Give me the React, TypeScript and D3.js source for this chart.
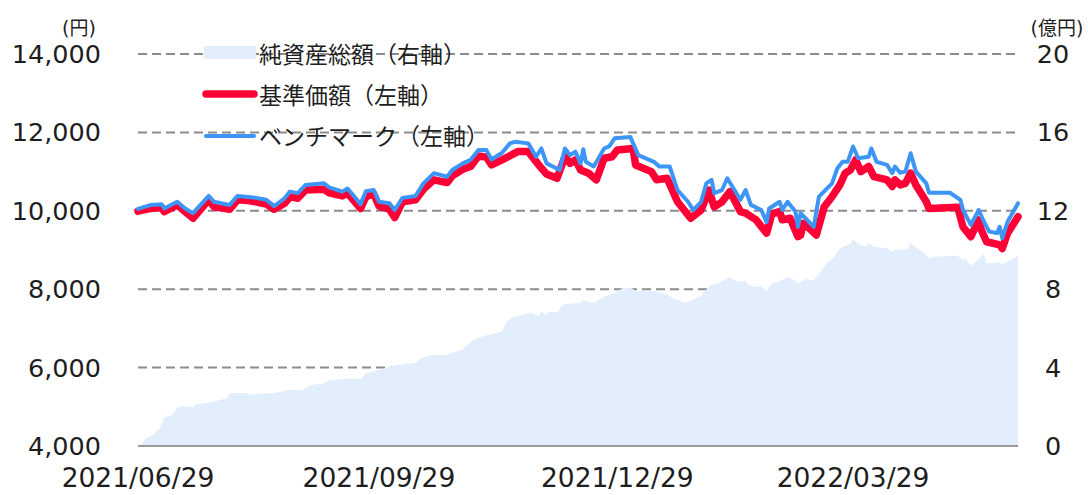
import React from "react";
import * as d3 from "d3";

// 基準価額 (円)
const navDates = [
  "2021-06-29","2021-07-04","2021-07-08","2021-07-09","2021-07-14","2021-07-17","2021-07-20","2021-07-26","2021-07-28",
  "2021-08-03","2021-08-06","2021-08-10","2021-08-13","2021-08-17","2021-08-20","2021-08-24","2021-08-26","2021-08-29",
  "2021-09-01","2021-09-08","2021-09-10","2021-09-15","2021-09-17","2021-09-22","2021-09-24","2021-09-27","2021-09-29",
  "2021-10-03","2021-10-05","2021-10-08","2021-10-13","2021-10-16","2021-10-20","2021-10-25","2021-10-27","2021-10-31",
  "2021-11-03","2021-11-06","2021-11-09","2021-11-11","2021-11-15","2021-11-21","2021-11-25","2021-11-29",
  "2021-12-02","2021-12-06","2021-12-09","2021-12-11","2021-12-13","2021-12-15","2021-12-18","2021-12-21","2021-12-24","2021-12-27","2021-12-29",
  "2022-01-04","2022-01-05","2022-01-11","2022-01-13","2022-01-17","2022-01-21","2022-01-26","2022-01-30",
  "2022-02-02","2022-02-04","2022-02-07","2022-02-10","2022-02-14","2022-02-16","2022-02-20","2022-02-24","2022-02-26",
  "2022-03-01","2022-03-02","2022-03-05","2022-03-08","2022-03-09","2022-03-10","2022-03-13","2022-03-15","2022-03-18",
  "2022-03-21","2022-03-24","2022-03-26","2022-03-28","2022-03-30",
  "2022-04-01","2022-04-04","2022-04-06","2022-04-11","2022-04-13","2022-04-14","2022-04-16","2022-04-18","2022-04-20",
  "2022-04-22","2022-04-26","2022-04-27",
  "2022-05-08","2022-05-10","2022-05-13","2022-05-16","2022-05-17","2022-05-19","2022-05-24","2022-05-25","2022-05-27","2022-05-31",
];
const navValues = [
  9990,10060,10090,9980,10150,9980,9810,10280,10100,
  10040,10280,10260,10230,10170,10040,10190,10360,10320,
  10530,10550,10460,10380,10450,10060,10360,10430,10120,
  10040,9830,10230,10280,10550,10790,10720,10890,11060,
  11130,11400,11370,11170,11300,11510,11510,11170,
  10940,10830,11380,11210,11300,11040,10960,10790,11340,11380,11550,
  11590,11170,11000,10790,10830,10230,9810,10020,
  10530,10100,10230,10490,9980,9940,9770,9430,9920,
  9980,9770,9810,9340,9380,9680,9510,9380,10100,
  10360,10660,10960,11040,11300,
  11000,11130,10870,10790,10620,10790,10660,10700,10960,
  10660,10230,10060,
  10090,9590,9340,9770,9510,9210,9130,9040,9430,9850,
];

// ベンチマーク (円)
const benchDates = [
  "2021-06-29","2021-07-04","2021-07-08","2021-07-09","2021-07-14","2021-07-17","2021-07-20","2021-07-26","2021-07-28",
  "2021-08-03","2021-08-06","2021-08-13","2021-08-17","2021-08-20","2021-08-24","2021-08-26","2021-08-29",
  "2021-09-01","2021-09-08","2021-09-10","2021-09-15","2021-09-17","2021-09-22","2021-09-24","2021-09-27","2021-09-29",
  "2021-10-03","2021-10-05","2021-10-08","2021-10-13","2021-10-16","2021-10-20","2021-10-25","2021-10-27","2021-10-31",
  "2021-11-03","2021-11-06","2021-11-09","2021-11-11","2021-11-15","2021-11-18","2021-11-20","2021-11-25","2021-11-28","2021-11-30",
  "2021-12-02","2021-12-07","2021-12-09","2021-12-11","2021-12-13","2021-12-15","2021-12-16","2021-12-17","2021-12-20",
  "2021-12-24","2021-12-26","2021-12-28",
  "2022-01-03","2022-01-06","2022-01-12","2022-01-14","2022-01-18","2022-01-21","2022-01-25","2022-01-27","2022-01-30",
  "2022-02-01","2022-02-03","2022-02-04","2022-02-07","2022-02-09","2022-02-14","2022-02-16","2022-02-18","2022-02-22",
  "2022-02-24","2022-02-25",
  "2022-03-01","2022-03-02","2022-03-04","2022-03-07","2022-03-08","2022-03-09","2022-03-14","2022-03-16","2022-03-21",
  "2022-03-23","2022-03-25","2022-03-27","2022-03-29","2022-03-31",
  "2022-04-04","2022-04-05","2022-04-07","2022-04-11","2022-04-13","2022-04-14","2022-04-16","2022-04-18","2022-04-20",
  "2022-04-22","2022-04-26","2022-04-27",
  "2022-05-05","2022-05-09","2022-05-10","2022-05-13","2022-05-16","2022-05-18","2022-05-20","2022-05-23","2022-05-24",
  "2022-05-25","2022-05-27","2022-05-31",
];
const benchValues = [
  10050,10150,10170,10060,10230,10060,9940,10380,10230,
  10150,10380,10330,10280,10120,10320,10490,10450,
  10660,10700,10600,10490,10570,10170,10500,10530,10230,
  10190,10020,10330,10380,10700,10960,10870,11040,11210,
  11300,11550,11550,11310,11480,11720,11760,11720,11380,11590,
  11210,11040,11590,11420,11510,11210,11570,11250,11130,
  11590,11650,11850,
  11880,11420,11250,11130,11130,10530,10230,10020,10230,
  10700,10790,10450,10530,10830,10280,10530,10150,10020,
  9710,10060,
  10230,10020,10230,9980,9590,9940,9590,10360,10700,
  11080,11250,11250,11640,11340,
  11380,11590,11250,11170,10960,11130,10970,11000,11470,
  11000,10700,10460,
  10460,10280,10020,9640,10020,9720,9470,9430,9590,
  9300,9720,10190,
];

// 純資産総額 (億円)
const aumDates = [
  "2021-06-29","2021-06-30","2021-07-02","2021-07-05","2021-07-06","2021-07-07","2021-07-09","2021-07-12","2021-07-14",
  "2021-07-16","2021-07-20","2021-07-21","2021-07-26","2021-08-02","2021-08-03","2021-08-10","2021-08-11","2021-08-13",
  "2021-08-21","2021-08-25","2021-08-30","2021-09-01","2021-09-03","2021-09-08","2021-09-10","2021-09-15","2021-09-17",
  "2021-09-22","2021-09-24","2021-10-01","2021-10-06","2021-10-13","2021-10-15","2021-10-19","2021-10-25","2021-10-31",
  "2021-11-04","2021-11-08","2021-11-15","2021-11-17","2021-11-19","2021-11-24","2021-11-26","2021-11-29","2021-11-30",
  "2021-12-02","2021-12-03","2021-12-06","2021-12-08","2021-12-10","2021-12-15","2021-12-16","2021-12-20","2021-12-24",
  "2021-12-28","2021-12-31",
  "2022-01-03","2022-01-05","2022-01-11","2022-01-14","2022-01-17","2022-01-20","2022-01-24","2022-01-26","2022-01-30",
  "2022-02-01","2022-02-03","2022-02-06","2022-02-10","2022-02-13","2022-02-16","2022-02-17","2022-02-20","2022-02-22",
  "2022-02-24","2022-02-26",
  "2022-03-01","2022-03-04","2022-03-06","2022-03-08","2022-03-11","2022-03-14","2022-03-18","2022-03-19","2022-03-22",
  "2022-03-23","2022-03-25","2022-03-28","2022-03-29","2022-03-31",
  "2022-04-03","2022-04-04","2022-04-06","2022-04-11","2022-04-13","2022-04-14","2022-04-16","2022-04-19","2022-04-20",
  "2022-04-22","2022-04-25","2022-04-27","2022-04-29",
  "2022-05-08","2022-05-10","2022-05-11","2022-05-13","2022-05-16","2022-05-18","2022-05-19","2022-05-22","2022-05-23",
  "2022-05-25","2022-05-27","2022-05-31",
];
const aumValues = [
  0.0,0.05,0.39,0.56,0.78,0.82,1.46,1.58,1.97,
  2.04,1.97,2.13,2.21,2.43,2.69,2.69,2.6,2.65,
  2.72,2.86,2.86,2.94,3.11,3.2,3.37,3.4,3.45,
  3.42,3.71,3.96,4.13,4.25,4.47,4.64,4.64,4.93,
  5.41,5.61,5.83,6.39,6.57,6.73,6.8,6.63,6.85,
  6.68,6.85,6.8,7.19,7.24,7.31,7.45,7.28,7.62,
  7.82,8.05,
  8.08,7.92,7.91,7.87,7.7,7.5,7.31,7.41,7.65,
  7.99,8.21,8.33,8.61,8.38,8.42,8.21,8.13,8.16,
  7.91,8.3,
  8.38,8.64,8.5,8.3,8.52,8.43,9.15,9.35,9.66,
  9.95,10.17,10.31,10.55,10.31,
  10.17,10.37,10.17,10.09,9.91,10.04,10.0,10.09,10.37,
  10.14,9.86,9.58,9.66,
  9.71,9.49,9.58,9.18,9.53,9.8,9.32,9.32,9.4,
  9.29,9.4,9.69,
];

const leftTicks = [4000, 6000, 8000, 10000, 12000, 14000];
const rightTicks = [0, 4, 8, 12, 16, 20];
const xTickDates = ["2021-06-29", "2021-09-29", "2021-12-29", "2022-03-29"];
const legendLabels = ["純資産総額（右軸）", "基準価額（左軸）", "ベンチマーク（左軸）"];

const NAV_COLOR = "#FF0036";
const BENCH_COLOR = "#3D95F5";
const AUM_COLOR = "#E2EEFC";
const GRID_COLOR = "#8C8C8C";
const TEXT_COLOR = "#1E1E1E";
const NUM_FONT = "'DejaVu Sans', 'Noto Sans CJK JP', sans-serif";
const JP_FONT = "'Noto Sans CJK JP', sans-serif";

export default function App() {
  const W = 1088;
  const H = 495;
  const parse = d3.timeParse("%Y-%m-%d");
  const fmt = d3.timeFormat("%Y/%m/%d");

  const x = d3
    .scaleTime()
    .domain([parse("2021-06-29") as Date, parse("2022-05-31") as Date])
    .range([138, 1018]);
  const yL = d3.scaleLinear().domain([4000, 14000]).range([446, 54]);
  const yR = d3.scaleLinear().domain([0, 20]).range([446, 54]);

  const nav = navDates.map((d, i) => ({ date: parse(d) as Date, v: navValues[i] }));
  const bench = benchDates.map((d, i) => ({ date: parse(d) as Date, v: benchValues[i] }));
  const aum = aumDates.map((d, i) => ({ date: parse(d) as Date, v: aumValues[i] }));

  const lineL = d3
    .line<{ date: Date; v: number }>()
    .x((d) => x(d.date))
    .y((d) => yL(d.v));
  const areaR = d3
    .area<{ date: Date; v: number }>()
    .x((d) => x(d.date))
    .y0(yR(0))
    .y1((d) => yR(d.v));

  const [x0, x1] = x.range();

  return (
    <svg
      width={W}
      height={H}
      style={{ position: "absolute", left: 0, top: 0, background: "#fff" }}
    >
      {/* horizontal dashed gridlines */}
      {leftTicks
        .filter((t) => t !== 4000)
        .map((t) => (
          <line
            key={"g" + t}
            x1={x0}
            x2={x1}
            y1={yL(t)}
            y2={yL(t)}
            stroke={GRID_COLOR}
            strokeWidth={2}
            strokeDasharray="9 5"
          />
        ))}

      {/* net assets area (right axis) */}
      <path d={areaR(aum) || ""} fill={AUM_COLOR} />

      {/* baseline */}
      <line x1={x0} x2={x1} y1={yL(4000)} y2={yL(4000)} stroke="#9A9A9A" strokeWidth={2} />

      {/* NAV and benchmark lines (left axis) */}
      <path
        d={lineL(nav) || ""}
        fill="none"
        stroke={NAV_COLOR}
        strokeWidth={7.5}
        strokeLinejoin="round"
        strokeLinecap="round"
      />
      <path
        d={lineL(bench) || ""}
        fill="none"
        stroke={BENCH_COLOR}
        strokeWidth={4}
        strokeLinejoin="round"
        strokeLinecap="round"
      />

      {/* left axis labels */}
      {leftTicks.map((t) => (
        <text
          key={"l" + t}
          x={101}
          y={yL(t)}
          textAnchor="end"
          dominantBaseline="central"
          fontFamily={NUM_FONT}
          fontSize={25.5}
          fill={TEXT_COLOR}
        >
          {d3.format(",")(t)}
        </text>
      ))}
      <text x={79} y={28} textAnchor="middle" dominantBaseline="central" fontFamily={NUM_FONT} fontSize={19} fill={TEXT_COLOR}>
        (円)
      </text>

      {/* right axis labels */}
      {rightTicks.map((t) => (
        <text
          key={"r" + t}
          x={1053}
          y={yR(t)}
          textAnchor="middle"
          dominantBaseline="central"
          fontFamily={NUM_FONT}
          fontSize={25.5}
          fill={TEXT_COLOR}
        >
          {t}
        </text>
      ))}
      <text x={1057} y={28} textAnchor="middle" dominantBaseline="central" fontFamily={NUM_FONT} fontSize={19} fill={TEXT_COLOR}>
        (億円)
      </text>

      {/* x axis labels */}
      {xTickDates.map((d) => {
        const dt = parse(d) as Date;
        return (
          <text
            key={"x" + d}
            x={x(dt)}
            y={477}
            textAnchor="middle"
            dominantBaseline="central"
            fontFamily={NUM_FONT}
            fontSize={26.5}
            fill={TEXT_COLOR}
          >
            {fmt(dt)}
          </text>
        );
      })}

      {/* legend */}
      <g>
        <rect x={204} y={46} width={52} height={13} fill={AUM_COLOR} />
        <line x1={206} x2={254} y1={94} y2={94} stroke={NAV_COLOR} strokeWidth={7.5} strokeLinecap="round" />
        <line x1={206} x2={254} y1={136} y2={136} stroke={BENCH_COLOR} strokeWidth={4} strokeLinecap="round" />
        {legendLabels.map((label, i) => (
          <text
            key={label}
            x={259}
            y={53 + i * 41}
            dominantBaseline="central"
            fontFamily={JP_FONT}
            fontSize={23}
            fill={TEXT_COLOR}
          >
            {label}
          </text>
        ))}
      </g>
    </svg>
  );
}
